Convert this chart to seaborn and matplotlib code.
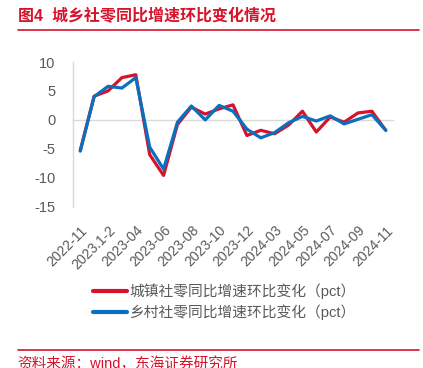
import matplotlib
matplotlib.use("Agg")
import matplotlib.pyplot as plt
import seaborn as sns
import pandas as pd
import numpy as np

categories = ['2022-11', '2022-12', '2023.1-2', '2023-03', '2023-04', '2023-05', '2023-06',
              '2023-07', '2023-08', '2023-09', '2023-10', '2023-11', '2023-12', '2024.1-2',
              '2024-03', '2024-04', '2024-05', '2024-06', '2024-07', '2024-08', '2024-09',
              '2024-10', '2024-11']
urban = [-5.3, 4.1, 5.0, 7.3, 7.8, -6.0, -9.6, -0.8, 2.2, 1.0, 1.9, 2.6, -2.7, -1.8,
         -2.4, -0.9, 1.5, -2.1, 0.5, -0.4, 1.2, 1.5, -1.8]
rural = [-5.4, 4.0, 5.8, 5.5, 7.3, -4.7, -8.5, -0.4, 2.4, 0.0, 2.5, 1.5, -1.6, -3.1,
         -2.2, -0.5, 0.6, -0.2, 0.7, -0.7, 0.1, 0.9, -1.8]
series_names = ['城镇社零同比增速环比变化（pct）', '乡村社零同比增速环比变化（pct）']
yticks = [10, 5, 0, -5, -10, -15]

RED = '#D7132C'
BLUE = '#0A70BE'
GRAY = '#595959'
AXGRAY = '#D9D9D9'

sns.set_style('white')
plt.rcParams['font.family'] = ['Liberation Sans', 'Noto Sans CJK SC', 'DejaVu Sans']

idx = np.arange(len(categories))
df = pd.DataFrame({
    'x': np.concatenate([idx, idx]),
    'value': urban + rural,
    'series': [series_names[0]] * len(urban) + [series_names[1]] * len(rural),
})

fig = plt.figure(figsize=(4.23, 3.68), dpi=100)
ax = fig.add_axes([73.3 / 423, 1 - 206.7 / 368, 319.4 / 423, 144.7 / 368])

sns.lineplot(data=df, x='x', y='value', hue='series', palette=[RED, BLUE],
             linewidth=2.3, ax=ax, sort=False, legend=True)

ax.set_xlim(-0.5, len(categories) - 0.5)
ax.set_ylim(-15, 10)
ax.set_yticks(yticks)
ax.set_yticklabels([str(v) for v in yticks], color=GRAY, fontsize=10.5)
ax.tick_params(axis='y', length=4, color=AXGRAY, width=1, pad=9)
ax.set_xlabel('')
ax.set_ylabel('')

for s in ['top', 'right']:
    ax.spines[s].set_visible(False)
ax.spines['left'].set_color(AXGRAY)
ax.spines['left'].set_linewidth(1)
ax.spines['bottom'].set_position(('data', 0))
ax.spines['bottom'].set_color(AXGRAY)
ax.spines['bottom'].set_linewidth(1)
ax.spines['bottom'].set_zorder(0.5)
ax.set_xticks(np.arange(-0.5, len(categories), 1.0))
ax.set_xticklabels([])
ax.tick_params(axis='x', length=4, color=AXGRAY, width=1, direction='out')

sec = ax.secondary_xaxis(0)
sec.set_xticks(idx[::2])
sec.set_xticklabels(categories[::2], rotation=45, ha='right', rotation_mode='anchor',
                    color=GRAY, fontsize=10)
sec.tick_params(axis='x', length=0, pad=12)
sec.spines['bottom'].set_visible(False)

handles, labels = ax.get_legend_handles_labels()
ax.legend_.remove()
for h in handles:
    h.set_linewidth(3)
leg = fig.legend(handles, labels, loc='center left',
                 bbox_to_anchor=(93 / 423, 1 - 301.7 / 368), frameon=False,
                 handlelength=2.3, handletextpad=0.2, labelspacing=0.4,
                 borderpad=0, borderaxespad=0, fontsize=10.6)
for t in leg.get_texts():
    t.set_color(GRAY)

fig.text(18 / 423, 1 - 16 / 368, '图4  城乡社零同比增速环比变化情况', color=RED,
         fontsize=11.5, fontweight='bold', va='center', ha='left')
fig.add_artist(plt.Line2D([18 / 423, 419 / 423], [1 - 30 / 368, 1 - 30 / 368],
                          color=RED, linewidth=1.2, transform=fig.transFigure))
fig.add_artist(plt.Line2D([18 / 423, 419 / 423], [1 - 350 / 368, 1 - 350 / 368],
                          color=RED, linewidth=1.2, transform=fig.transFigure))
fig.text(17 / 423, 1 - 364 / 368, '资料来源：wind，东海证券研究所', color=RED,
         fontsize=10.5, va='center', ha='left')

fig.savefig('out.png', dpi=100)
